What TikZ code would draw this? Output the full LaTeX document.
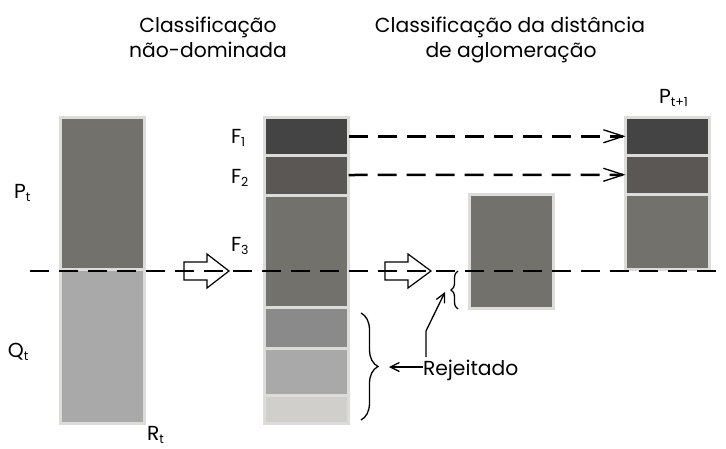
\documentclass[tikz,border=0pt]{standalone}
\usepackage{fontspec}
\setmainfont{Poppins}
\usetikzlibrary{arrows.meta,decorations.pathreplacing}
\definecolor{bord}{HTML}{DCDCDA}
\definecolor{cA}{HTML}{444444}
\definecolor{cB}{HTML}{5A5754}
\definecolor{cC}{HTML}{72716C}
\definecolor{cD}{HTML}{8A8A8A}
\definecolor{cE}{HTML}{A9A9A9}
\definecolor{cF}{HTML}{D0CFCB}
\newcommand\mysub[1]{\raisebox{-3.5pt}{\fontsize{12.5}{12.5}\selectfont #1}}
\newcommand\blk[6]{\node[blk,fill=#2,minimum width={#5-#3},minimum height={#6-#4}] (#1) at ({(#3+#5)/2},{(#4+#6)/2}) {};}
\begin{document}
\begin{tikzpicture}[x=1pt,y=-1pt,
  blk/.style={draw=bord,line width=3pt,inner sep=0pt,outer sep=0pt,rectangle},
  lbl/.style={inner sep=0pt,outer sep=0pt,font=\fontsize{20.3}{23}\selectfont},
  dashline/.style={line width=2.5pt,dash pattern=on 19pt off 10pt},
  dasharrow/.style={dashline,-{Straight Barb[length=20pt,width=13pt,line width=1.3pt]}},
  hol/.style={draw=black,line width=1.2pt,line join=miter},
  thin/.style={line width=1.3pt},
  thinarrow/.style={thin,-{Straight Barb[length=9pt,width=9pt,line width=1.3pt]}},
  bracestyle/.style={thin,decorate}]
\useasboundingbox (0,0) rectangle (726,448);
% titles
\node[lbl,anchor=base] (t1a) at (208,32) {Classificação};
\node[lbl,anchor=base] (t1b) at (208,57) {não-dominada};
\node[lbl,anchor=base] (t2a) at (510,32) {Classificação da distância};
\node[lbl,anchor=base] (t2b) at (511,57) {de aglomeração};
% R_t column
\blk{pt}{cC}{60.5}{117.5}{144.5}{269.5}
\blk{qt}{cE}{60.5}{269.5}{144.5}{423.5}
% middle column
\blk{f1}{cA}{264.5}{117.5}{348.5}{155}
\blk{f2}{cB}{264.5}{155}{348.5}{195}
\blk{f3}{cC}{264.5}{195}{348.5}{307.5}
\blk{b4}{cD}{264.5}{307.5}{348.5}{348}
\blk{b5}{cE}{264.5}{348}{348.5}{395}
\blk{b6}{cF}{264.5}{395}{348.5}{423.5}
% small box
\blk{sb}{cC}{469}{194.5}{553}{308}
% P_{t+1}
\blk{n1}{cA}{625.5}{117.5}{709.5}{155}
\blk{n2}{cB}{625.5}{155}{709.5}{194.5}
\blk{n3}{cC}{625.5}{194.5}{709.5}{269.5}
% labels
\node[lbl,anchor=base west] (lpt) at (14,198) {P\mysub{t}};
\node[lbl,anchor=base west] (lqt) at (8,357) {Q\mysub{t}};
\node[lbl,anchor=base west] (lrt) at (147,440) {R\mysub{t}};
\node[lbl,anchor=base west] (lf1) at (231,143) {F\mysub{1}};
\node[lbl,anchor=base west] (lf2) at (231,183) {F\mysub{2}};
\node[lbl,anchor=base west] (lf3) at (231,251) {F\mysub{3}};
\node[lbl,anchor=base west] (lp1) at (659,103) {P\mysub{t+1}};
\node[lbl,anchor=base west] (rej) at (423,375) {Rejeitado};
% hollow arrows
\draw[hol] (184,262) -- (207,262) -- (207,254) -- (229,271) -- (207,288) -- (207,280) -- (184,280) -- cycle;
\draw[hol] (385,262) -- (408,262) -- (408,254) -- (431,271) -- (408,288) -- (408,280) -- (385,280) -- cycle;
% main dashed line
\coordinate (dl0) at (30,271);
\coordinate (dl1) at (726,271);
\draw[dashline] (dl0) -- (dl1);
% dashed arrows
\draw[dasharrow] (f1.east) -- (n1.west);
\draw[dasharrow] (f2.east) -- (n2.west);
% braces
\coordinate (bb0) at (361,313);
\coordinate (bb1) at (361,420);
\draw[bracestyle,decoration={brace,amplitude=17pt,aspect=0.5}] (bb0) -- (bb1);
\coordinate (sb0) at (458,309);
\coordinate (sb1) at (458,271);
\draw[bracestyle,decoration={brace,amplitude=7pt}] (sb0) -- (sb1);
% arrows from Rejeitado
\coordinate (bt) at (389,367);
\draw[thinarrow] (rej.west |- bt) -- (bt);
\coordinate (up0) at (426,357);
\coordinate (up1) at (426,331);
\coordinate (up2) at (445,292);
\draw[thinarrow] (up0) -- (up1) -- (up2);
\end{tikzpicture}
\end{document}
